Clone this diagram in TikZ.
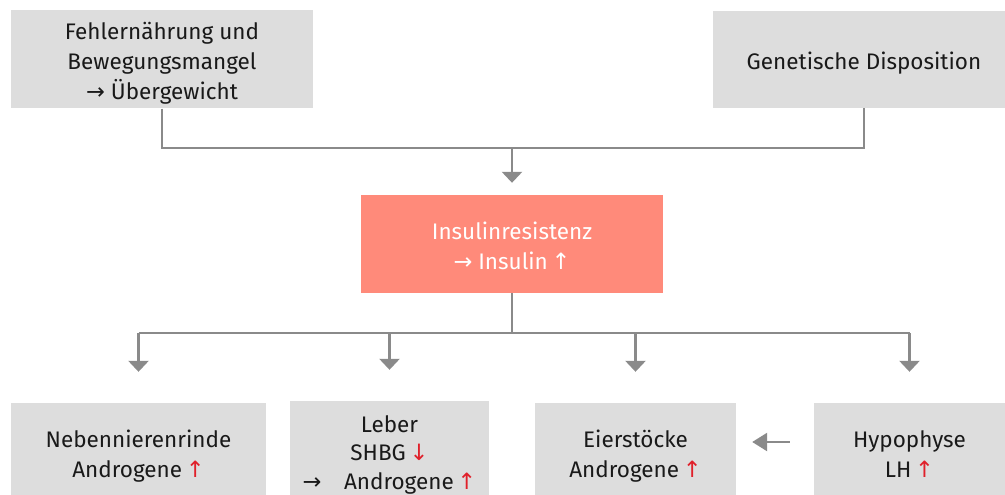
\documentclass[tikz,border=0pt]{standalone}
\usepackage{fontspec}
\setmainfont{Fira Sans}
\newfontfamily\symf{DejaVu Sans}
\usetikzlibrary{arrows.meta}
\definecolor{boxgray}{HTML}{DDDDDD}
\definecolor{linegray}{HTML}{8A8A8A}
\definecolor{salmon}{HTML}{FF8A7A}
\definecolor{redarr}{HTML}{E0202A}
\newcommand{\up}{{\color{redarr}\symf ↑}}
\newcommand{\dn}{{\color{redarr}\symf ↓}}
\newcommand{\ra}{{\symf →}}
\newcommand{\Tl}{\rule[-9pt]{0pt}{38pt}}
\newcommand{\Bl}{\rule[-9pt]{0pt}{30pt}}
\tikzset{
  box/.style={fill=boxgray, draw=none, align=center, inner sep=0pt, text=black!90,
    font=\fontsize{22.5}{30}\selectfont, minimum height=#1},
  box/.default=97pt,
  conn/.style={draw=linegray, line width=2.6pt},
  arr/.style={conn, -{Triangle[width=20pt,length=11pt]}},
}
\begin{document}
\begin{tikzpicture}[x=1pt,y=-1pt]
\useasboundingbox (0,0) rectangle (1005,495);
\begin{scope}
\clip (0,0) rectangle (1005,495);
\node[box, minimum width=302pt] (tl) at (162,59.5) {\Tl Fehlernährung und\\Bewegungsmangel\\\ra\ Übergewicht\Bl};
\node[box, minimum width=302pt] (tr) at (864,59.5) {\Tl Genetische Disposition\Bl};
\node[box=98pt, fill=salmon, text=white, minimum width=302pt] (ins) at (512,244) {\Tl Insulinresistenz\\\ra\ Insulin\,{\symf ↑}\Bl};
\node[box=99pt, minimum width=255pt] (b1) at (138.5,452.5) {\Tl Nebennierenrinde\\Androgene\,\up\Bl};
\node[box=99pt, minimum width=199pt, font=\fontsize{22.5}{28.5}\selectfont] (b2) at (389.5,450.5) {\Tl Leber\\SHBG\,\dn\\\ra\quad Androgene\,\up\Bl};
\node[box=99pt, minimum width=201pt] (b3) at (635.5,452.5) {\Tl Eierstöcke\\Androgene\,\up\Bl};
\node[box=99pt, minimum width=191pt] (b4) at (909.5,452.5) {\Tl Hypophyse\\LH\,\up\Bl};
\end{scope}
\coordinate (j1) at (512,148);
\coordinate (j2) at (512,333);
\draw[conn] (tl.south) |- (j1) -| (tr.south);
\draw[arr, shorten >=12pt] (j1) -- (ins.north);
\draw[conn] (ins.south) -- (j2);
\draw[conn] (b1.north |- j2) -- (b4.north |- j2);
\foreach \b in {b1,b2,b3,b4}
  \draw[arr, shorten >=31pt] (\b.north |- j2) -- (\b.north);
\draw[arr, -{Triangle[width=18pt,length=15pt]}, shorten <=24pt, shorten >=16pt] (b4.west |- 0,442) -- (b3.east |- 0,442);
\end{tikzpicture}
\end{document}
